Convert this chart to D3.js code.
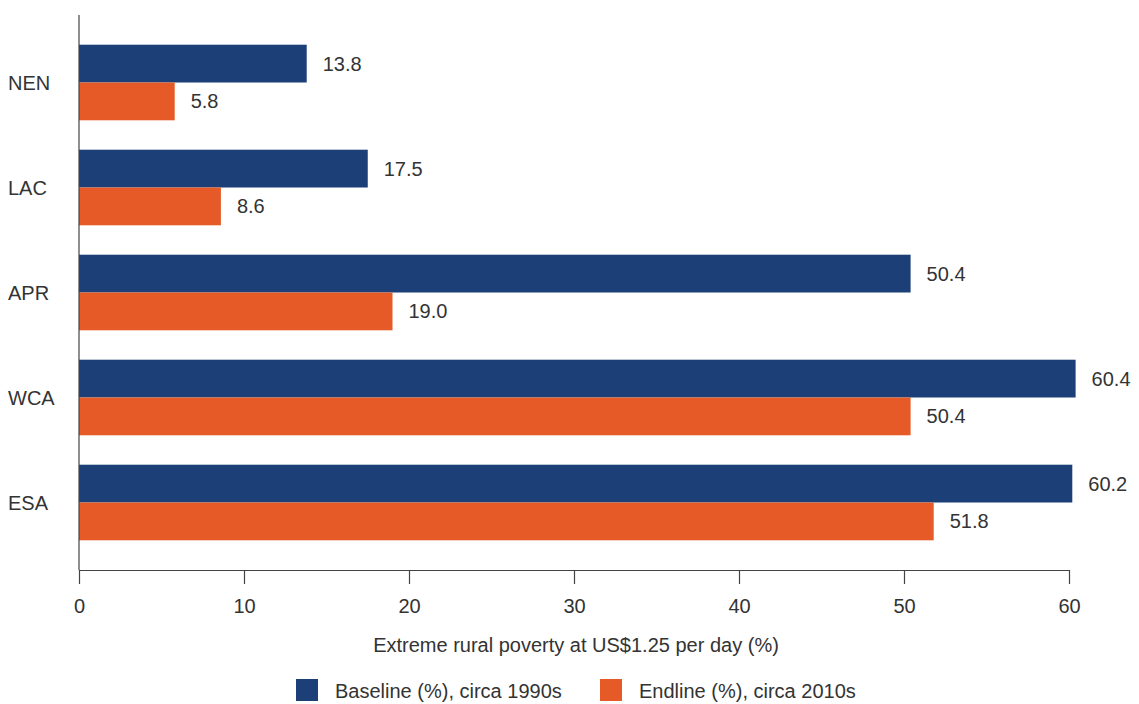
<!DOCTYPE html>
<html>
<head>
<meta charset="utf-8">
<script src="https://cdn.jsdelivr.net/npm/d3@7"></script>
<style>
  html, body { margin: 0; padding: 0; background: #fff; }
  text { font-family: "Liberation Sans", Arial, sans-serif; fill: #333; }
</style>
</head>
<body>
<svg id="chart" width="1139" height="704"></svg>
<script>
const categories = ["NEN", "LAC", "APR", "WCA", "ESA"];
const baseline = [13.8, 17.5, 50.4, 60.4, 60.2];
const endline = [5.8, 8.6, 19.0, 50.4, 51.8];
const seriesNames = ["Baseline (%), circa 1990s", "Endline (%), circa 2010s"];
const xTicks = [0, 10, 20, 30, 40, 50, 60];
const xAxisTitle = "Extreme rural poverty at US$1.25 per day (%)";

const colors = ["#1c3f78", "#e55a27"];
const FS = 20;
const svg = d3.select("#chart");

const x = d3.scaleLinear().domain([0, 60]).range([79, 1069]);
const y = d3.scaleBand().domain(categories).range([30, 555]).paddingInner(0.28).paddingOuter(0.14);
const ySub = d3.scaleBand().domain([0, 1]).range([0, y.bandwidth()]);

const data = categories.map((c, i) => ({ cat: c, vals: [baseline[i], endline[i]] }));

const g = svg.append("g");
data.forEach(d => {
  d.vals.forEach((v, s) => {
    g.append("rect")
      .attr("x", x(0))
      .attr("y", y(d.cat) + ySub(s))
      .attr("width", x(v) - x(0))
      .attr("height", ySub.bandwidth())
      .attr("fill", colors[s]);
    g.append("text")
      .attr("x", x(v) + 16)
      .attr("y", y(d.cat) + ySub(s) + ySub.bandwidth() / 2)
      .attr("dy", "0.35em")
      .attr("font-size", FS)
      .text(v.toFixed(1));
  });
  svg.append("text")
    .attr("x", 8)
    .attr("y", y(d.cat) + y.bandwidth() / 2)
    .attr("dy", "0.35em")
    .attr("font-size", FS)
    .text(d.cat);
});

// left axis line
svg.append("line")
  .attr("x1", x(0)).attr("x2", x(0))
  .attr("y1", 15).attr("y2", 570)
  .attr("stroke", "#444").attr("stroke-width", 1.2);

// bottom axis
const xAxis = d3.axisBottom(x).tickValues(xTicks).tickSize(14).tickSizeOuter(0).tickPadding(0).tickFormat(d3.format("d"));
const ax = svg.append("g").attr("transform", "translate(0,570)").call(xAxis);
ax.select(".domain").attr("stroke", "#444").attr("stroke-width", 1.2);
ax.selectAll(".tick line").attr("stroke", "#444").attr("stroke-width", 1.2);
ax.selectAll(".tick text")
  .attr("y", 36).attr("dy", "0.35em")
  .attr("font-size", FS).attr("font-family", "Liberation Sans, Arial, sans-serif").attr("fill", "#333");

svg.append("text")
  .attr("x", 576).attr("y", 645)
  .attr("dy", "0.35em")
  .attr("text-anchor", "middle")
  .attr("font-size", FS)
  .text(xAxisTitle);

// legend
const legX = [296, 600];
seriesNames.forEach((n, i) => {
  svg.append("rect").attr("x", legX[i]).attr("y", 679).attr("width", 22).attr("height", 22).attr("fill", colors[i]);
  svg.append("text").attr("x", legX[i] + 39).attr("y", 691).attr("dy", "0.35em").attr("font-size", FS).text(n);
});
</script>
</body>
</html>
